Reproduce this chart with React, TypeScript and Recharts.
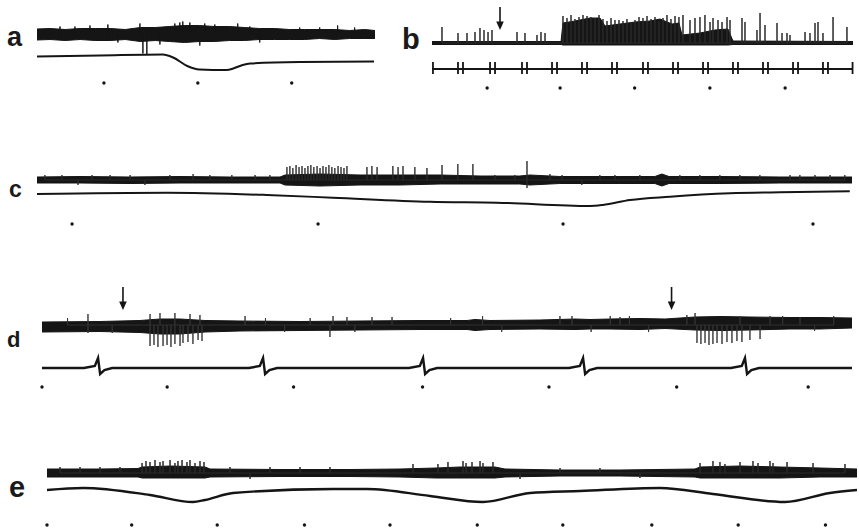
import React from 'react';
import { ComposedChart, Area, Line, Scatter, XAxis, YAxis } from 'recharts';

// ---------- data (time in marker intervals, amplitude in trace units) ----------
// panel a
const aBand = [
  [0, 5.5, -5.5], [0.14, 6, -5], [0.3, 5, -6], [0.46, 6, -5], [0.62, 6, -6], [0.78, 6, -6], [0.94, 5, -5],
  [1.1, 7, -7], [1.26, 7, -6], [1.41, 8, -7], [1.57, 9, -8], [1.73, 9, -7], [1.89, 8, -7], [2.05, 8, -6],
  [2.21, 7, -6], [2.37, 6, -5], [2.53, 6, -5], [2.69, 5, -5], [2.85, 5, -5], [3.01, 5, -4], [3.17, 5, -5],
  [3.33, 4, -4], [3.49, 5, -4], [3.6, 4, -4],
];
const aSpikes = [
  [0.245, 8], [0.404, 8], [0.564, 9], [0.755, 10], [0.862, -8], [1.096, 11], [1.128, -19], [1.17, -20],
  [1.309, -10], [1.468, 11], [1.521, 12], [1.553, 13], [1.628, 12], [1.734, -11], [1.787, 11], [1.894, 10],
  [2.138, 11], [2.266, 8], [2.372, -8], [2.798, 7], [3.011, 7], [3.202, 9], [3.383, 7],
];
const aSlow = [
  [0, -0.5], [0.67, 0.5], [1.34, 1.5], [1.45, -1.5], [1.6, -10], [1.73, -13.5], [2.02, -14], [2.09, -12.5],
  [2.19, -9], [2.27, -7.5], [2.8, -6], [3.59, -5.5],
];
const aMarks = [0.713, 1.713, 2.713];

// panel b
const bBand = [
  [0, 1.5, -1.5], [1.732, 1.5, -1.5], [1.758, 20, -2], [1.919, 22, -2], [2.121, 25, -2], [2.255, 25, -2],
  [2.322, 17, -2], [2.523, 19, -2], [2.725, 21, -2], [2.926, 22, -2], [3.06, 24, -2], [3.221, 19, -2],
  [3.315, 20, -2], [3.356, 8, -2], [3.597, 10, -2], [3.799, 13, -2], [3.973, 14, -2], [4.04, 2, -1.5],
  [5.651, 1.5, -1.5],
];
const bSpikes = [
  [0.134, 16], [0.349, 10], [0.47, 10], [0.577, 11], [0.644, 15], [0.698, 13], [0.752, 11], [0.805, 13],
  [1.141, 11], [1.248, 10], [1.409, 8], [1.463, 11], [1.517, 10],
  [1.758, 27], [1.812, 25], [1.866, 28], [1.919, 24], [1.973, 26], [2.027, 28], [2.081, 27], [2.134, 26],
  [2.188, 25], [2.242, 28], [2.295, 24], [2.349, 22], [2.403, 25], [2.456, 23], [2.51, 23], [2.564, 22],
  [2.617, 24], [2.671, 21], [2.725, 23], [2.779, 26], [2.832, 25], [2.886, 27], [2.94, 24], [2.993, 26],
  [3.047, 22], [3.101, 25], [3.154, 28], [3.208, 24], [3.262, 27], [3.315, 26],
  [3.369, 28], [3.463, 23], [3.53, 25], [3.597, 26], [3.664, 28], [3.732, 21], [3.772, 25], [3.839, 23],
  [3.893, 21], [3.96, 26], [4.0, 23], [4.161, 25], [4.201, 21], [4.362, 13], [4.403, 30], [4.47, 18],
  [4.631, 20], [4.698, 10], [4.765, 10], [4.805, 8], [5.007, 11], [5.074, 10], [5.141, 20], [5.181, 21],
  [5.248, 10], [5.383, 26], [5.57, 16],
];
const bBeats = [
  0.013, 0.349, 0.416, 0.779, 0.846, 1.208, 1.275, 1.611, 1.678, 2.013, 2.081, 2.416, 2.483, 2.832, 2.899,
  3.235, 3.302, 3.638, 3.705, 4.04, 4.107, 4.443, 4.51, 4.846, 4.913, 5.248, 5.315, 5.645,
];
const bBeatAmp = [7, -5];
const bMarks = [0.74, 1.72, 2.72, 3.73, 4.74];
const bArrows = [0.913];

// panel c
const cBand = [
  [0, 3, -3], [0.174, 3.5, -3], [0.377, 3, -3.5], [0.579, 3.5, -3], [0.781, 3, -3], [0.984, 3, -3],
  [1.004, 5, -5], [1.146, 6, -6], [1.308, 5, -5], [1.47, 5, -5], [1.632, 5, -4], [1.794, 4, -4],
  [1.955, 4, -4], [1.996, 5, -5], [2.117, 3.5, -3.5], [2.36, 3.5, -3.5], [2.502, 3.5, -3.5], [2.53, 6, -6],
  [2.559, 3.5, -3.5], [2.765, 3.5, -3.5], [3.008, 3, -3], [3.3, 3, -3],
];
const cSpikes = [
  [0.032, 5], [0.101, 5], [0.166, -5], [0.223, 5], [0.296, 5], [0.377, 5], [0.437, -5], [0.538, 5],
  [0.632, 6], [0.7, 5], [0.789, 5], [0.883, 5], [0.943, 5],
  [1.012, 13], [1.024, 14], [1.036, 12], [1.049, 15], [1.061, 13], [1.073, 14], [1.085, 12], [1.097, 14],
  [1.109, 15], [1.121, 13], [1.134, 14], [1.146, 12], [1.158, 14], [1.17, 13], [1.182, 15], [1.194, 13],
  [1.206, 12], [1.219, 14], [1.231, 13], [1.243, 12], [1.255, 14],
  [1.336, 13], [1.356, 14], [1.377, 13], [1.441, 14], [1.462, 13], [1.482, 14], [1.53, 13], [1.579, 12],
  [1.64, 15], [1.704, 16], [1.765, 16], [1.854, 5], [1.935, 5], [1.984, 19], [1.984, -8], [2.077, 6],
  [2.126, 5], [2.206, -5], [2.279, 5], [2.34, 5], [2.441, 5], [2.603, 5], [2.684, 5], [2.765, 5],
  [2.846, 5], [2.927, 5], [3.049, 5], [3.089, 5], [3.15, 5], [3.211, 5], [3.271, 5],
];
const cSlow = [
  [0, -1], [0.526, 0.3], [0.931, -2], [1.198, -4.7], [1.591, -8.7], [1.862, -9.7], [2.239, -13],
  [2.291, -12], [2.401, -7], [2.563, -3.7], [2.806, -0.3], [3.008, 0.7], [3.291, 1.7],
];
const cMarks = [0.142, 1.138, 2.13, 3.142];

// panel d
const dBand = [
  [0, 3, -7], [0.454, 3.5, -6.5], [0.767, 4.5, -7.5], [0.924, 6, -9], [1.081, 6, -9], [1.276, 4.5, -7],
  [1.55, 4, -6], [2.02, 3.5, -5.5], [2.49, 4, -5], [2.96, 4.5, -4.5], [3.328, 4.5, -4.5], [3.391, 5.5, -5.5],
  [3.508, 4.5, -4.5], [3.9, 5, -4], [4.174, 6, -4.5], [4.291, 5.5, -4], [4.448, 6, -4], [4.683, 6.5, -4.5],
  [4.879, 6, -3.5], [5.114, 8, -5], [5.309, 8.5, -5.5], [5.544, 8, -5], [5.857, 7.5, -4], [6.092, 7.5, -4],
  [6.343, 7, -3],
];
const dSpikes = [
  [0.2, 7], [0.36, 11], [0.36, -8], [0.55, -8], [0.846, 11], [0.846, -21], [0.877, -20], [0.908, -22],
  [0.924, 12], [0.948, -21], [0.979, -20], [1.01, -22], [1.041, 12], [1.041, -19], [1.081, -21],
  [1.104, -18], [1.143, -17], [1.159, 11], [1.182, -19], [1.222, -15], [1.237, 10], [1.253, -16], [1.59, 9],
  [1.75, 7], [1.9, -7], [2.1, 7], [2.255, -12], [2.279, 9], [2.388, 8], [2.45, -7], [2.584, 8], [2.741, 8],
  [3.2, 7], [3.45, 9], [3.6, -7], [4.056, 9], [4.15, 9], [4.3, -7], [4.45, 9], [4.526, 8], [4.6, 9],
  [4.75, -7], [5.05, 10], [5.114, 12], [5.129, -18], [5.16, -19], [5.192, -18], [5.223, -20], [5.254, -19],
  [5.286, -18], [5.325, -19], [5.364, -17], [5.403, -18], [5.442, -16], [5.466, 9], [5.481, -17],
  [5.544, -15], [5.623, -14], [5.701, 9], [5.8, 9], [5.936, 8], [6.05, -6], [6.2, 9],
];
const dBeats = [0.439, 1.731, 2.984, 4.237, 5.505];
const dBeatShape = [[-0.11, 0], [-0.025, 2], [0, 10], [0.016, -6], [0.05, -2], [0.11, 0]];
const dMarks = [0, 0.98, 1.97, 2.98, 3.97, 4.97, 6.0];
const dArrows = [0.634, 4.93];

// panel e
const eBand = [
  [0, 4, -4], [0.613, 4, -4], [1.053, 4.5, -4], [1.1, 6, -5], [1.424, 7, -5], [1.829, 6, -5], [1.887, 4, -4],
  [2.697, 3.5, -3.5], [3.507, 3.5, -3.5], [4.086, 4, -4], [4.502, 5, -5], [4.78, 6, -5], [5.185, 6, -5],
  [5.301, 4, -4], [5.938, 3, -3], [6.632, 3, -3], [7.5, 4, -4], [7.558, 6, -5], [8.021, 7, -5],
  [8.484, 6, -5], [8.947, 5, -4], [9.375, 4, -4],
];
const eSpikes = [
  [0.15, 6], [0.382, 6], [0.613, 6], [0.845, 6], [1.1, 10], [1.146, 12], [1.192, 11], [1.25, 13],
  [1.308, 11], [1.343, 12], [1.424, 13], [1.481, 10], [1.516, 12], [1.563, 13], [1.62, 11], [1.655, 13],
  [1.713, 10], [1.771, 12], [1.817, 11], [2.118, 6], [2.35, -6], [2.581, 6], [2.928, 6], [3.275, 6],
  [4.236, 9], [4.525, 9], [4.641, 11], [4.815, 12], [4.85, 10], [4.919, 11], [5.012, 12], [5.046, 10],
  [5.162, 11], [5.475, -6], [5.938, 5], [6.4, 5], [6.863, -5], [7.558, 10], [7.708, 12], [7.789, 11],
  [7.847, 9], [8.021, 11], [8.171, 12], [8.229, 10], [8.368, 12], [8.403, 10], [8.565, 11], [8.866, 10],
  [9.236, 9],
];
const eSlow = [
  [0, 0], [0.417, 2], [1.192, -5], [1.69, -12], [1.829, -10], [2.153, -3], [3.31, 1], [3.704, 1],
  [4.433, -6], [5.046, -12], [5.59, -3], [6.169, -1], [7.095, 2], [7.708, -4], [8.542, -12], [9.062, -3],
  [9.375, 0],
];
const eMarks = [0, 0.98, 1.97, 2.98, 3.97, 4.98, 5.97, 7.0, 8.0, 9.01];

const panelLabels = ['a', 'b', 'c', 'd', 'e'];

// ---------- helpers that build library tables ----------
const INK = '#151515';
const PAD = 6;

const bandRows = (band: number[][], base: number) =>
  band.map(([t, hi, lo]) => ({ t, band: [base + lo, base + hi] }));
const spikeRows = (spikes: number[][], base: number) =>
  spikes.flatMap(([t, a]) => [{ t, v: base }, { t, v: base + a }, { t, v: base }]);
const traceRows = (pts: number[][], base: number) => pts.map(([t, v]) => ({ t, v: base + v }));
const markRows = (ts: number[], v: number) => ts.map((t) => ({ t, v }));
const tickRows = (ts: number[], base: number, amp: number[], T: number) => {
  const rows: { t: number; v: number }[] = [{ t: 0, v: base }];
  ts.forEach((t) => rows.push({ t, v: base }, { t, v: base + amp[0] }, { t, v: base + amp[1] }, { t, v: base }));
  rows.push({ t: T, v: base });
  return rows;
};
const beatRows = (ts: number[], base: number, shape: number[][], T: number) => {
  const rows: { t: number; v: number }[] = [{ t: 0, v: base }];
  ts.forEach((t) => shape.forEach(([dt, dv]) => rows.push({ t: t + dt, v: base + dv })));
  rows.push({ t: T, v: base });
  return rows;
};

const Mark = (p: any) => <circle cx={p.cx} cy={p.cy} r={1.7} fill={INK} />;
const Arrow = (p: any) => {
  const { cx, cy } = p;
  return (
    <g>
      <line x1={cx} y1={cy - 23} x2={cx} y2={cy - 7} stroke={INK} strokeWidth={1.6} />
      <polygon points={`${cx - 3.8},${cy - 8.5} ${cx + 3.8},${cy - 8.5} ${cx},${cy}`} fill={INK} />
    </g>
  );
};

type PanelProps = { left: number; top: number; width: number; height: number; T: number; children: React.ReactNode };
function Panel({ left, top, width, height, T, children }: PanelProps) {
  return (
    <div style={{ position: 'absolute', left: left - PAD, top }}>
      <ComposedChart width={width + 2 * PAD} height={height} margin={{ top: 0, right: PAD, bottom: 0, left: PAD }}>
        <XAxis type="number" dataKey="t" domain={[0, T]} hide />
        <YAxis type="number" dataKey="v" domain={[0, height]} hide />
        {children}
      </ComposedChart>
    </div>
  );
}

const bandEl = (rows: any[]) => (
  <Area data={rows} dataKey="band" type="linear" stroke={INK} strokeWidth={1} fill={INK} fillOpacity={1}
    dot={false} activeDot={false} isAnimationActive={false} />
);
const lineEl = (rows: any[], w: number, type: any = 'linear', color = INK) => (
  <Line data={rows} dataKey="v" type={type} stroke={color} strokeWidth={w} dot={false} activeDot={false}
    isAnimationActive={false} />
);
const marksEl = (rows: any[]) => <Scatter data={rows} shape={Mark} isAnimationActive={false} />;
const arrowsEl = (rows: any[]) => <Scatter data={rows} shape={Arrow} isAnimationActive={false} />;

const labelStyle = (left: number, top: number, size: number): React.CSSProperties => ({
  position: 'absolute', left, top, fontSize: size, lineHeight: 1, fontWeight: 700,
  fontFamily: '"Liberation Sans", Arial, sans-serif', color: '#1a1a1a',
});

export default function App() {
  return (
    <div style={{ position: 'absolute', left: 0, top: 0, width: 859, height: 530, background: '#fff', overflow: 'hidden' }}>
      <span style={labelStyle(7, 24, 27)}>{panelLabels[0]}</span>
      <span style={labelStyle(402, 25, 29)}>{panelLabels[1]}</span>
      <span style={labelStyle(9, 177.5, 23)}>{panelLabels[2]}</span>
      <span style={labelStyle(7, 329, 22)}>{panelLabels[3]}</span>
      <span style={labelStyle(9, 473, 29)}>{panelLabels[4]}</span>

      <Panel left={37} top={0} width={338} height={90} T={3.6}>
        {bandEl(bandRows(aBand, 55.5))}
        {lineEl(spikeRows(aSpikes, 55.5), 1)}
        {lineEl(traceRows(aSlow, 34), 2, 'monotone')}
        {marksEl(markRows(aMarks, 7))}
      </Panel>

      <Panel left={432} top={0} width={421} height={95} T={5.651}>
        {bandEl(bandRows(bBand, 52))}
        {lineEl(spikeRows(bSpikes, 52), 1, 'linear', '#2a2a2a')}
        {lineEl(tickRows(bBeats, 26, bBeatAmp, 5.651), 1.8)}
        {marksEl(markRows(bMarks, 7))}
        {arrowsEl(markRows(bArrows, 65))}
      </Panel>

      <Panel left={37} top={150} width={815} height={80} T={3.3}>
        {bandEl(bandRows(cBand, 50))}
        {lineEl(spikeRows(cSpikes, 50), 0.9, 'linear', '#2a2a2a')}
        {lineEl(traceRows(cSlow, 37), 2, 'monotone')}
        {marksEl(markRows(cMarks, 6))}
      </Panel>

      <Panel left={42} top={280} width={810} height={112} T={6.343}>
        {bandEl(bandRows(dBand, 67))}
        {lineEl(spikeRows(dSpikes, 67), 0.9, 'linear', '#333')}
        {lineEl(beatRows(dBeats, 24, dBeatShape, 6.343), 2.4)}
        {marksEl(markRows(dMarks, 5))}
        {arrowsEl(markRows(dArrows, 82))}
      </Panel>

      <Panel left={47} top={445} width={810} height={85} T={9.375}>
        {bandEl(bandRows(eBand, 57))}
        {lineEl(spikeRows(eSpikes, 57), 1, 'linear', '#2a2a2a')}
        {lineEl(traceRows(eSlow, 40), 2.4, 'monotone')}
        {marksEl(markRows(eMarks, 5))}
      </Panel>
    </div>
  );
}
